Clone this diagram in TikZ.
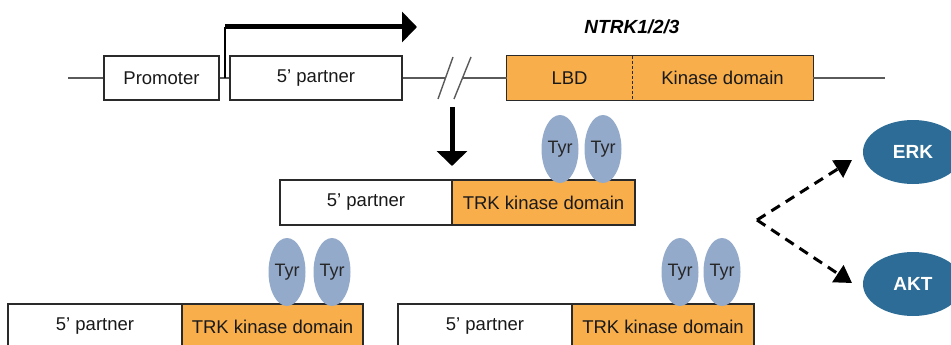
\documentclass[tikz,border=0pt]{standalone}
\usepackage{fontspec}
\setmainfont{Liberation Sans}
\usetikzlibrary{arrows.meta,shapes.geometric}
\definecolor{trkorange}{HTML}{F7AE4B}
\definecolor{tyrblue}{HTML}{94AACB}
\definecolor{erkblue}{HTML}{2C6C96}
\definecolor{dnaline}{HTML}{5A5A5A}
\definecolor{boxline}{HTML}{2A2A2A}
\begin{document}
\begin{tikzpicture}[x=1pt,y=-1pt,
  dom/.style={draw=boxline, line width=1.1pt, inner sep=0pt, minimum height=44pt,
    font=\fontsize{18.5}{20}\selectfont, text=black!90},
  partner/.style={dom, fill=white},
  kinase/.style={dom, fill=trkorange},
  kinfill/.style={fill=trkorange, inner sep=0pt, minimum height=44pt,
    font=\fontsize{18.5}{20}\selectfont, text=black!90},
  tyr/.style={ellipse, fill=tyrblue, minimum width=37pt, minimum height=68pt,
    inner sep=0pt, font=\fontsize{18}{20}\selectfont, text=black!85},
  effector/.style={ellipse, fill=erkblue, minimum width=100pt, minimum height=64pt,
    inner sep=0pt, text=white, font=\fontsize{19}{21}\selectfont\bfseries},
  dna/.style={draw=dnaline, line width=1.4pt},
  bigarrow/.style={line width=5pt, -{Triangle[length=15pt,width=30pt]}},
  signal/.style={line width=3pt, dash pattern=on 10pt off 7pt,
    -{Triangle[length=17pt,width=20pt]}}
]
\useasboundingbox (0,0) rectangle (951,345);
\clip (0,0) rectangle (951,345);

% ---- genomic locus ----
\coordinate (lstart) at (68,78);
\coordinate (lend) at (885,78);
\coordinate (brkA) at (445,78);
\coordinate (brkB) at (462,78);
\node[partner, minimum width=115pt] (prom) at (161.5,78) {Promoter};
\node[partner, minimum width=172pt] (p5top) at (316,78) {5’ partner};
\node[kinfill, minimum width=125pt] (lbd) at (569.5,78) {LBD};
\node[kinfill, minimum width=181pt] (kin) at (722.5,78) {Kinase domain};
\draw[draw=boxline, line width=1.1pt] (lbd.north west) rectangle (kin.south east);
\draw[draw=boxline, line width=1pt, dash pattern=on 3pt off 2pt] (lbd.north east) -- (lbd.south east);

\draw[dna] (lstart) -- (prom.west);
\draw[dna] (prom.east) -- (p5top.west);
\draw[dna] (p5top.east) -- (brkA);
\draw[dna] (brkB) -- (lbd.west);
\draw[dna] (kin.east) -- (lend);
\coordinate (s1a) at (438,99); \coordinate (s1b) at (453,57);
\coordinate (s2a) at (454,99); \coordinate (s2b) at (471,57);
\draw[dna] (s1a) -- (s1b);
\draw[dna] (s2a) -- (s2b);

\node[font=\fontsize{19}{22}\selectfont\bfseries\itshape] (ntrk) at (632,27) {NTRK1/2/3};

% transcription start arrow
\coordinate (tss) at (225,78);
\coordinate (tssup) at (225,27);
\coordinate (tssend) at (417,27);
\draw[line width=2pt] (tss) -- (tssup);
\draw[bigarrow] (tssup) -- (tssend);

% fusion arrow
\coordinate (fdown1) at (452,107);
\coordinate (fdown2) at (452,166);
\draw[bigarrow] (fdown1) -- (fdown2);

% ---- fusion proteins ----
\node[partner, minimum width=172pt, minimum height=45pt] (p5mid) at (366,202.5) {5’ partner};
\node[kinase, minimum width=183pt, minimum height=45pt] (trkmid) at (543.5,202.5) {TRK kinase domain};
\node[tyr] (tyrm1) at (560,149) {Tyr};
\node[tyr] (tyrm2) at (603,149) {Tyr};

\node[partner, minimum width=174pt, minimum height=45pt] (p5l) at (95,326.5) {5’ partner};
\node[kinase, minimum width=181pt, minimum height=45pt] (trkl) at (272.5,326.5) {TRK kinase domain};
\node[tyr] (tyrl1) at (287,272) {Tyr};
\node[tyr] (tyrl2) at (332,272) {Tyr};

\node[partner, minimum width=174pt, minimum height=45pt] (p5r) at (485,326.5) {5’ partner};
\node[kinase, minimum width=182pt, minimum height=45pt] (trkr) at (663,326.5) {TRK kinase domain};
\node[tyr] (tyrr1) at (680,272) {Tyr};
\node[tyr] (tyrr2) at (722,272) {Tyr};

% ---- downstream signalling ----
\node[effector] (erk) at (913,152) {ERK};
\node[effector] (akt) at (913,284) {AKT};
\coordinate (fork) at (757,220);
\coordinate (erktip) at (852,160);
\coordinate (akttip) at (852,283);
\draw[signal] (fork) -- (erktip);
\draw[signal] (fork) -- (akttip);
\end{tikzpicture}
\end{document}
